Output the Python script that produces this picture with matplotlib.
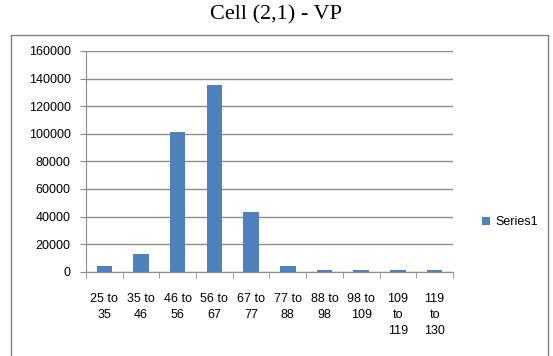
import numpy as np
import matplotlib
matplotlib.use('Agg')
import matplotlib.pyplot as plt
from matplotlib.patches import Rectangle

# Value bins and counts for VP in cell (2,1)
categories = ['25 to\n35', '35 to\n46', '46 to\n56', '56 to\n67', '67 to\n77',
              '77 to\n88', '88 to\n98', '98 to\n109', '109\nto\n119', '119\nto\n130']
counts = [3800, 12800, 101500, 135500, 43000, 3800, 1000, 1000, 1000, 1000]
y_ticks = [0, 20000, 40000, 60000, 80000, 100000, 120000, 140000, 160000]

bar_color = '#4F81BD'
grid_color = '#8C8C8C'

fig = plt.figure(figsize=(5.53, 3.56), dpi=100)
ax = fig.add_axes([0.1555, 0.2368, 0.6635, 0.62])

# Outer chart frame
fig.patches.append(Rectangle((11 / 553, -0.01), 537 / 553, 1 - 35 / 356 + 0.01,
                             transform=fig.transFigure, fill=False,
                             edgecolor='#7F7F7F', linewidth=1.0))

x = np.arange(len(categories))
ax.bar(x, counts, width=0.42, color=bar_color, label='Series1', zorder=3)

ax.set_xlim(-0.5, len(categories) - 0.5)
ax.set_ylim(0, 160000)
ax.set_yticks(y_ticks)
ax.set_yticklabels([str(v) for v in y_ticks])
ax.yaxis.grid(True, color=grid_color, linewidth=1.0, zorder=0)

ax.set_xticks(x)
ax.set_xticklabels(categories, linespacing=1.45)
ax.set_xticks(np.arange(-0.5, len(categories), 1), minor=True)
ax.tick_params(axis='x', which='major', length=0, pad=15, labelsize=9)
ax.tick_params(axis='x', which='minor', length=4, color=grid_color)
ax.tick_params(axis='y', length=4, color=grid_color, pad=7, labelsize=9)
for lbl in ax.get_xticklabels() + ax.get_yticklabels():
    lbl.set_fontfamily('Liberation Sans')
for lbl in ax.get_xticklabels():
    lbl.set_verticalalignment('top')

for side in ['top', 'right']:
    ax.spines[side].set_visible(False)
for side in ['left', 'bottom']:
    ax.spines[side].set_color(grid_color)

ax.legend(loc='center left', bbox_to_anchor=(477 / 553, 1 - 222 / 356),
          bbox_transform=fig.transFigure, frameon=False, handlelength=0.6,
          handleheight=0.6, handletextpad=0.5, borderaxespad=0,
          prop={'family': 'Liberation Sans', 'size': 9})

fig.text(0.5, 1 - 15 / 356, 'Cell (2,1) - VP', ha='center', va='center',
         fontsize=16, fontfamily='Liberation Serif')

fig.savefig('out.png', dpi=100)
